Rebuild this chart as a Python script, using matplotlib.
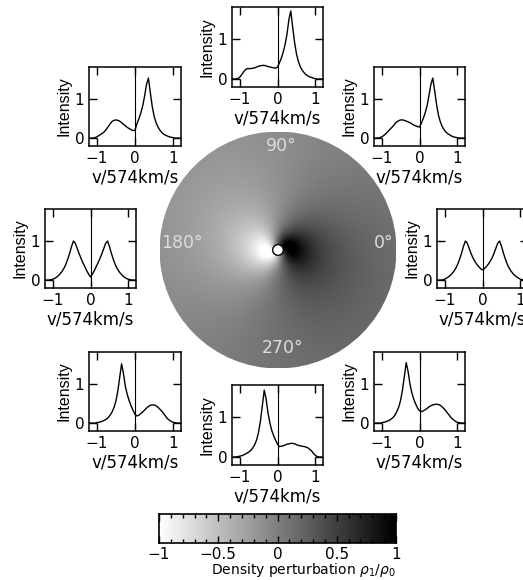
import numpy as np
import matplotlib
matplotlib.use("Agg")
import matplotlib.pyplot as plt
from matplotlib.patches import Circle

plt.rcParams["font.family"] = ["DejaVu Sans"]

# --------------------------------------------------
#  line profiles (velocity grid shared by all panels)
# --------------------------------------------------
V = [-1.20, -1.15, -1.10, -1.05, -1.00, -0.95, -0.90, -0.85, -0.80, -0.75,
     -0.70, -0.65, -0.60, -0.55, -0.50, -0.45, -0.40, -0.35, -0.30, -0.25,
     -0.20, -0.15, -0.10, -0.05, 0.00, 0.05, 0.10, 0.15, 0.20, 0.25,
     0.30, 0.35, 0.40, 0.45, 0.50, 0.55, 0.60, 0.65, 0.70, 0.75,
     0.80, 0.85, 0.90, 0.95, 1.00, 1.05, 1.10, 1.15, 1.20]

PROF_0 = [0, 0, 0, 0.01, 0.02, 0.05, 0.08, 0.12, 0.17, 0.23,
          0.31, 0.41, 0.54, 0.69, 0.86, 0.99, 0.93, 0.80, 0.67, 0.56,
          0.47, 0.40, 0.34, 0.29, 0.26, 0.29, 0.34, 0.40, 0.47, 0.56,
          0.67, 0.80, 0.93, 0.99, 0.86, 0.69, 0.54, 0.41, 0.31, 0.23,
          0.17, 0.12, 0.08, 0.05, 0.02, 0.01, 0, 0, 0]
PROF_45 = [0, 0, 0, 0.01, 0.03, 0.06, 0.10, 0.15, 0.20, 0.25,
           0.30, 0.36, 0.41, 0.44, 0.46, 0.46, 0.45, 0.43, 0.41, 0.39,
           0.36, 0.33, 0.31, 0.29, 0.28, 0.38, 0.50, 0.64, 0.82, 1.08,
           1.36, 1.52, 1.20, 0.85, 0.58, 0.41, 0.29, 0.21, 0.15, 0.11,
           0.08, 0.05, 0.03, 0.02, 0.01, 0, 0, 0, 0]
PROF_90 = [0, 0, 0, 0.01, 0.04, 0.10, 0.17, 0.23, 0.26, 0.26,
           0.26, 0.27, 0.28, 0.30, 0.32, 0.33, 0.34, 0.34, 0.33, 0.31,
           0.30, 0.29, 0.28, 0.27, 0.30, 0.40, 0.52, 0.67, 0.86, 1.12,
           1.48, 1.70, 1.30, 0.92, 0.63, 0.44, 0.31, 0.22, 0.16, 0.11,
           0.08, 0.05, 0.04, 0.02, 0.01, 0, 0, 0, 0]
PROF_135 = [0, 0, 0, 0.01, 0.03, 0.06, 0.09, 0.12, 0.16, 0.22,
            0.29, 0.36, 0.42, 0.45, 0.46, 0.45, 0.43, 0.39, 0.35, 0.31,
            0.27, 0.24, 0.21, 0.19, 0.20, 0.36, 0.49, 0.63, 0.81, 1.06,
            1.36, 1.52, 1.15, 0.80, 0.55, 0.39, 0.28, 0.20, 0.14, 0.10,
            0.07, 0.05, 0.03, 0.02, 0.01, 0, 0, 0, 0]
PROF_180 = [0, 0, 0, 0.01, 0.02, 0.04, 0.07, 0.11, 0.16, 0.22,
            0.30, 0.40, 0.53, 0.68, 0.85, 0.99, 0.93, 0.80, 0.67, 0.55,
            0.44, 0.34, 0.24, 0.15, 0.08, 0.15, 0.24, 0.34, 0.44, 0.55,
            0.67, 0.80, 0.93, 0.99, 0.85, 0.68, 0.53, 0.40, 0.30, 0.22,
            0.16, 0.11, 0.07, 0.04, 0.02, 0.01, 0, 0, 0]
PROF_225 = [0, 0, 0, 0, 0.01, 0.02, 0.03, 0.05, 0.07, 0.10,
            0.14, 0.20, 0.28, 0.39, 0.55, 0.80, 1.15, 1.50, 1.25, 0.92,
            0.72, 0.56, 0.43, 0.32, 0.22, 0.18, 0.20, 0.24, 0.28, 0.33,
            0.38, 0.42, 0.45, 0.46, 0.46, 0.44, 0.40, 0.35, 0.30, 0.24,
            0.17, 0.11, 0.07, 0.04, 0.02, 0.01, 0, 0, 0]
PROF_270 = [0, 0, 0, 0.01, 0.02, 0.03, 0.05, 0.07, 0.10, 0.13,
            0.17, 0.23, 0.31, 0.43, 0.62, 0.90, 1.28, 1.67, 1.45, 1.10,
            0.85, 0.66, 0.53, 0.42, 0.32, 0.26, 0.27, 0.28, 0.30, 0.32,
            0.33, 0.34, 0.34, 0.33, 0.31, 0.29, 0.28, 0.27, 0.26, 0.25,
            0.23, 0.19, 0.15, 0.09, 0.04, 0.01, 0, 0, 0]
PROF_315 = [0, 0, 0, 0, 0.01, 0.02, 0.03, 0.05, 0.07, 0.10,
            0.14, 0.20, 0.29, 0.40, 0.57, 0.83, 1.18, 1.53, 1.30, 0.98,
            0.76, 0.60, 0.48, 0.38, 0.31, 0.29, 0.31, 0.34, 0.37, 0.41,
            0.44, 0.46, 0.47, 0.48, 0.47, 0.45, 0.41, 0.36, 0.30, 0.24,
            0.18, 0.12, 0.08, 0.04, 0.02, 0.01, 0, 0, 0]

ANGLES = [0, 45, 90, 135, 180, 225, 270, 315]
PROFILES = [PROF_0, PROF_45, PROF_90, PROF_135, PROF_180, PROF_225, PROF_270, PROF_315]

X_TICKS = [-1, 0, 1]
X_TICKLABELS = ["\u22121", "0", "1"]
Y_TICKS = [0, 1]
Y_TICKLABELS = ["0", "1"]

# disk labels
DISK_LABELS = ["0\u00b0", "90\u00b0", "180\u00b0", "270\u00b0"]

# colour bar
CB_TICKS = [-1, -0.5, 0, 0.5, 1]
CB_TICKLABELS = ["\u22121", "\u22120.5", "0", "0.5", "1"]
CB_MINOR = [-0.9, -0.8, -0.7, -0.6, -0.4, -0.3, -0.2, -0.1,
            0.1, 0.2, 0.3, 0.4, 0.6, 0.7, 0.8, 0.9]

# perturbation model for the disk picture (one-armed trailing spiral,
# softened near the centre so the extrema are round blobs)
R_IN = 0.045          # inner hole, in units of disk radius
AMP_REF = 2.3
AMP_R0 = 0.10
AMP_Q = 1.05
PHASE_IN = np.radians(10.0)
PHASE_TWIST = np.radians(45.0) / np.log(1.0 / AMP_R0)

W, H = 523, 580
fig = plt.figure(figsize=(W / 100, H / 100), dpi=100)
fig.patch.set_facecolor("white")


def px_axes(l, t, r, b):
    return fig.add_axes([l / W, 1 - b / H, (r - l) / W, (b - t) / H])


# panel boxes in pixels (left, top, right, bottom)
BOXES = {
    0: (437, 209, 528, 288),
    45: (374, 67, 465, 146),
    90: (232, 7, 323, 87),
    135: (89, 67, 181, 146),
    180: (45, 209, 136, 288),
    225: (89, 352, 181, 431),
    270: (232, 385, 323, 465),
    315: (374, 352, 465, 431),
}

for ang, prof in zip(ANGLES, PROFILES):
    ax = px_axes(*BOXES[ang])
    ax.plot(V, prof, color="black", lw=1.0)
    ax.axvline(0, color="black", lw=0.8)
    ax.set_xlim(-1.2, 1.2)
    ax.set_ylim(-0.2, 1.8)
    ax.set_xticks(X_TICKS)
    ax.set_xticklabels(X_TICKLABELS)
    ax.set_yticks(Y_TICKS)
    ax.set_yticklabels(Y_TICKLABELS)
    ax.tick_params(direction="in", length=5.6, width=1.0, top=True, right=True,
                   labelsize=11, pad=3.5)
    for sp in ax.spines.values():
        sp.set_linewidth(1.1)
    ax.set_xlabel("v/574km/s", fontsize=12, labelpad=2)
    ax.set_ylabel("Intensity", fontsize=11.5, family="Liberation Sans", labelpad=2)

# --------------------------------------------------
#  disk image
# --------------------------------------------------
dax = px_axes(159.5, 131.5, 396.5, 368.5)
dax.set_xlim(-1, 1)
dax.set_ylim(-1, 1)
dax.set_aspect("equal")
dax.axis("off")

n = 500
g = np.linspace(-1, 1, n)
xx, yy = np.meshgrid(g, g)
rr = np.hypot(xx, yy)
pp = np.arctan2(yy, xx)
rs = np.clip(rr, 1e-3, None)
s = rs / AMP_R0
amp = AMP_REF * s / (1 + s ** 2) ** AMP_Q
phase = PHASE_IN - PHASE_TWIST * np.log(np.clip(s, 0.3, None))
rho = np.clip(amp * np.cos(pp - phase), -1, 1)

im = dax.imshow(rho, extent=[-1, 1, -1, 1], origin="lower", cmap="gray_r",
                vmin=-1, vmax=1, interpolation="bilinear")
clip = Circle((0, 0), 1.0, transform=dax.transData)
im.set_clip_path(clip)
dax.add_patch(Circle((0, 0), R_IN, facecolor="white", edgecolor="black", lw=1.0, zorder=4))

label_pos = [(0.89, 0.06), (0.03, 0.88), (-0.81, 0.06), (0.04, -0.83)]
for txt, (tx, ty) in zip(DISK_LABELS, label_pos):
    dax.text(tx, ty, txt, color="#dcdcdc", fontsize=12.5, ha="center", va="center")

# --------------------------------------------------
#  colour bar
# --------------------------------------------------
cax = px_axes(159, 514, 396, 543)
grad = np.linspace(-1, 1, 256).reshape(1, -1)
cax.imshow(grad, extent=[-1, 1, 0, 1], aspect="auto", cmap="gray_r", vmin=-1, vmax=1)
cax.set_xlim(-1, 1)
cax.set_ylim(0, 1)
cax.set_yticks([])
cax.set_xticks(CB_TICKS)
cax.set_xticklabels(CB_TICKLABELS)
cax.set_xticks(CB_MINOR, minor=True)
cax.tick_params(which="major", direction="in", length=5, width=1.0, top=True, labelsize=11, pad=3)
cax.tick_params(which="minor", direction="in", length=2.8, width=1.0, top=True)
for sp in cax.spines.values():
    sp.set_linewidth(1.2)
cax.set_xlabel("Density perturbation $\\rho_1/\\rho_0$", loc="right", fontsize=10, labelpad=-1)

fig.savefig("out.png", dpi=100)
